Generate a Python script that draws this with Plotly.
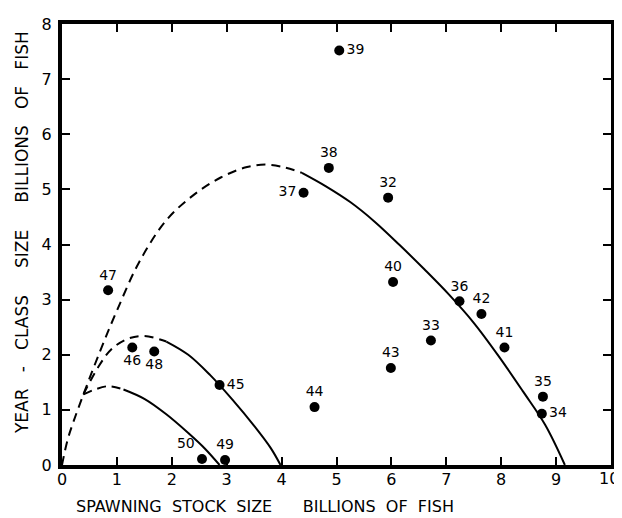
import plotly.graph_objects as go

# Year-class observations
years = ["32", "33", "34", "35", "36", "37", "38", "39", "40", "41",
         "42", "43", "44", "45", "46", "47", "48", "49", "50"]
stock = [5.94, 6.72, 8.74, 8.76, 7.24, 4.40, 4.86, 5.05, 6.03, 8.06,
         7.64, 5.99, 4.60, 2.87, 1.28, 0.84, 1.68, 2.97, 2.55]
recruits = [4.85, 2.26, 0.93, 1.24, 2.97, 4.94, 5.39, 7.52, 3.32, 2.13,
            2.74, 1.76, 1.05, 1.45, 2.13, 3.17, 2.06, 0.09, 0.11]
label_pos = ["top center", "top center", "middle right", "top center", "top center",
             "middle left", "top center", "middle right", "top center", "top center",
             "top center", "top center", "top center", "middle right", "bottom center",
             "top center", "bottom center", "top center", "top left"]

# Curves (dashed part, then solid part)
big_dash_x = [0, 0.1, 0.2, 0.39, 0.7, 1.0, 1.4, 1.9, 2.4, 2.9, 3.35, 3.7, 4.05, 4.37]
big_dash_y = [0, 0.45, 0.76, 1.28, 2.08, 2.80, 3.67, 4.44, 4.90, 5.22, 5.40, 5.45, 5.40, 5.30]
big_solid_x = [4.37, 4.80, 5.25, 5.70, 6.15, 6.60, 7.05, 7.50, 7.95, 8.40, 8.80, 9.16]
big_solid_y = [5.30, 5.06, 4.77, 4.41, 3.99, 3.55, 3.09, 2.58, 1.98, 1.33, 0.73, 0.0]

mid_dash_x = [0.39, 0.65, 0.9, 1.2, 1.5, 1.9]
mid_dash_y = [1.28, 1.76, 2.10, 2.29, 2.34, 2.24]
mid_solid_x = [1.9, 2.3, 2.7, 3.1, 3.5, 3.8, 3.98]
mid_solid_y = [2.24, 2.00, 1.63, 1.19, 0.71, 0.31, 0.0]

small_dash_x = [0.39, 0.6, 0.85, 1.12]
small_dash_y = [1.28, 1.37, 1.43, 1.37]
small_solid_x = [1.12, 1.5, 1.9, 2.3, 2.6, 2.87]
small_solid_y = [1.37, 1.20, 0.92, 0.58, 0.30, 0.0]

x_ticks = [0, 1, 2, 3, 4, 5, 6, 7, 8, 9, 10]
y_ticks = [0, 1, 2, 3, 4, 5, 6, 7, 8]

FONT = "DejaVu Sans"
fig = go.Figure()

def add_line(xs, ys, dash):
    fig.add_trace(go.Scatter(
        x=xs, y=ys, mode="lines",
        line=dict(color="black", width=2, dash=dash, shape="spline", smoothing=1.0),
        hoverinfo="skip", showlegend=False))

DASH = "9px,6px"
add_line(big_dash_x, big_dash_y, DASH)
add_line(big_solid_x, big_solid_y, "solid")
add_line(mid_dash_x, mid_dash_y, DASH)
add_line(mid_solid_x, mid_solid_y, "solid")
add_line(small_dash_x, small_dash_y, DASH)
add_line(small_solid_x, small_solid_y, "solid")

fig.add_trace(go.Scatter(
    x=stock, y=recruits, mode="markers+text",
    text=years, textposition=label_pos,
    textfont=dict(family=FONT, size=14, color="black"),
    marker=dict(color="black", size=10),
    showlegend=False, cliponaxis=False))

axis_common = dict(
    showgrid=False, zeroline=False,
    showline=True, linecolor="black", linewidth=4, mirror="ticks",
    ticks="inside", ticklen=8, tickwidth=2, tickcolor="black",
    tickfont=dict(family=FONT, size=16, color="black"),
)

# last x tick label is drawn as an annotation so it stays inside the page
x_text = [str(v) for v in x_ticks[:-1]] + [""]

# the page body has an 8px margin, so the figure is 8px smaller than the window
fig.update_layout(
    width=614, height=510,
    margin=dict(l=54, r=7, t=7, b=53),
    paper_bgcolor="white", plot_bgcolor="white",
    xaxis=dict(range=[0, 10], tickvals=x_ticks, ticktext=x_text,
               ticklabelstandoff=-3, **axis_common),
    yaxis=dict(range=[0, 8], tickvals=y_ticks, ticktext=[str(v) for v in y_ticks],
               ticklabelstandoff=3, **axis_common),
    showlegend=False,
)

fig.add_annotation(
    text=str(x_ticks[-1]), xref="x", yref="paper", x=x_ticks[-1], y=(465 - 479) / 450,
    xanchor="right", yanchor="middle", xshift=10, showarrow=False,
    font=dict(family=FONT, size=16, color="black"))

NB = "\u00a0"
fig.add_annotation(
    text="SPAWNING" + NB * 2 + "STOCK" + NB * 2 + "SIZE" + NB * 6 + "BILLIONS" + NB * 2 + "OF" + NB * 2 + "FISH",
    xref="paper", yref="paper", x=(266.5 - 62) / 553, y=(465 - 507) / 450,
    xanchor="center", yanchor="middle", showarrow=False,
    font=dict(family=FONT, size=16, color="black"))
fig.add_annotation(
    text="YEAR" + NB * 3 + "-" + NB * 3 + "CLASS" + NB * 5 + "SIZE" + NB * 5 + "BILLIONS" + NB * 3 + "OF" + NB * 3 + "FISH",
    xref="paper", yref="paper", x=(21 - 62) / 553, y=(465 - 228) / 450, textangle=-90,
    xanchor="center", yanchor="middle", showarrow=False,
    font=dict(family=FONT, size=17, color="black"))

fig.write_html("out.html")
